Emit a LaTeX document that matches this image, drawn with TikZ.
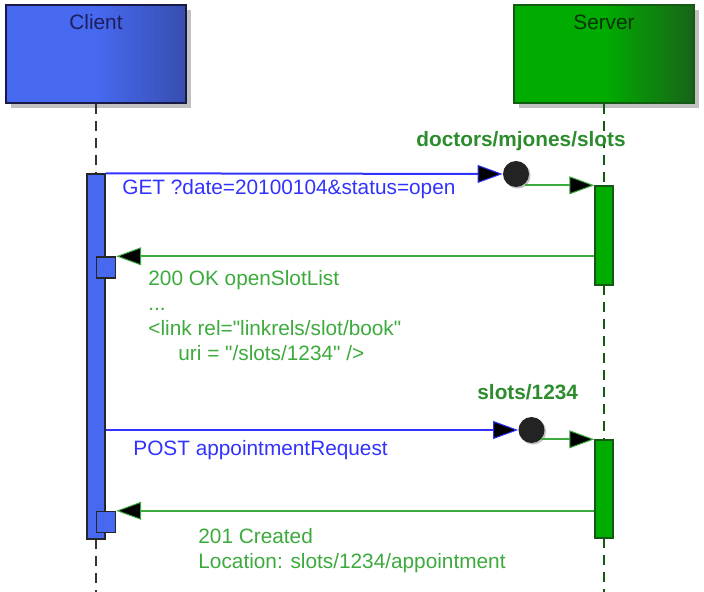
\documentclass[tikz,border=0pt]{standalone}
\usepackage{fontspec}
\setmainfont{Liberation Sans}
\usepackage{xcolor}
\usetikzlibrary{arrows.meta,shadows}

\definecolor{clientblue}{RGB}{70,105,240}
\definecolor{clientdark}{RGB}{55,78,175}
\definecolor{clientline}{RGB}{25,25,70}
\definecolor{servergreen}{RGB}{0,172,0}
\definecolor{serverdark}{RGB}{25,100,25}
\definecolor{serverline}{RGB}{20,90,20}
\definecolor{msgblue}{RGB}{50,50,255}
\definecolor{msggreen}{RGB}{60,170,60}
\definecolor{urlgreen}{RGB}{45,140,45}
\definecolor{dotgray}{RGB}{35,35,35}

\tikzset{
	lbl/.style={font=\fontsize{10.4}{12.5}\selectfont},
	actor/.style={lbl,draw,line width=0.8pt,inner sep=0pt,minimum width=90pt,
		text height=12.5pt,text depth=36.5pt,
		drop shadow={shadow xshift=2.5pt,shadow yshift=-2.5pt,fill=black!35,opacity=0.7}},
	actbar/.style={draw,line width=0.7pt,inner sep=0pt,minimum width=9pt},
	endpt/.style={circle,fill=dotgray,inner sep=0pt,minimum size=13pt,
		drop shadow={shadow xshift=0.8pt,shadow yshift=-0.8pt,fill=black!40,opacity=0.6}},
	lifeline/.style={dash pattern=on 5pt off 3.5pt,line width=0.8pt},
	reqtxt/.style={lbl,text=msgblue,anchor=base west,inner sep=0pt},
	restxt/.style={lbl,text=msggreen,anchor=base west,inner sep=0pt,align=left},
	urltxt/.style={lbl,font=\fontsize{10.4}{12.5}\selectfont\bfseries,text=urlgreen,anchor=base west,inner sep=0pt},
	tip/.style={-{Triangle[length=12.5pt,width=9pt,fill=black,line width=0.5pt]},line width=1pt}
}

\begin{document}
\begin{tikzpicture}[x=0.5pt,y=-0.5pt]
		\useasboundingbox (0,0) rectangle (704,592);
		% actors
		\node[actor,draw=clientline,left color=clientblue,right color=clientdark,middle color=clientblue,text={rgb,255:red,30;green,30;blue,90}] (client) at (96,54) {Client};
		\node[actor,draw=serverline,left color=servergreen,right color=serverdark,middle color=servergreen,text={rgb,255:red,10;green,50;blue,10}] (server) at (604,54) {Server};
		%
		\coordinate (cend) at (96,592);
		\coordinate (send) at (604,592);
		% lifelines
		\draw[lifeline,black!80] (client.south) -- (96,174);
		\draw[lifeline,serverline] (server.south) -- (604,186);
		\draw[lifeline,serverline] (604,285) -- (604,440);
		\draw[lifeline,black!80] (96,539) -- (cend);
		\draw[lifeline,serverline] (604,538) -- (send);
		%
		\node[actbar,fill=clientblue,draw=black!85,minimum height=182.5pt] (cbar) at (96,356.5) {};
		\node[actbar,fill=servergreen,draw=serverline,minimum height=49.5pt] (sbar1) at (604,235.5) {};
		\node[actbar,fill=servergreen,draw=serverline,minimum height=49pt] (sbar2) at (604,489) {};
		\node[actbar,fill=clientblue,draw=black!85,minimum width=9.5pt,minimum height=10.5pt] (sq1) at (106,267.5) {};
		\node[actbar,fill=clientblue,draw=black!85,minimum width=9.5pt,minimum height=10.5pt] (sq2) at (106,522) {};
		%
		\node[endpt] (c1) at (516,174) {};
		\node[endpt] (c2) at (531.5,430) {};
		%
		\path[tip]
		% requests
		(cbar.north east) edge[msgblue] (c1.west)
		(cbar.east |- c2.west) edge[msgblue] (c2.west)
		% forwarded
		(c1.south east |- sbar1.north west) edge[msggreen] (sbar1.north west)
		(c2.south east |- sbar2.north west) edge[msggreen] (sbar2.north west)
		% responses
		(sbar1.west |- sq1.north) edge[msggreen] (sq1.north east)
		(sbar2.west |- sq2.north) edge[msggreen] (sq2.north east);
		%
		\node[urltxt] (url1) at (416,147) {doctors/mjones/slots};
		\node[urltxt] (url2) at (477,399) {slots/1234};
		\node[reqtxt] (gettxt) at (122,195) {GET ?date=20100104\&status=open};
		\node[reqtxt] (posttxt) at (133,455) {POST appointmentRequest};
		% base of a multi-line node is its last line
		\node[restxt] (oktxt) at (148,360) {200 OK openSlotList\\...\\<link rel=\textquotedbl linkrels/slot/book\textquotedbl\\\hspace*{15pt}uri = \textquotedbl/slots/1234\textquotedbl{} />};
		\node[restxt] (crtxt) at (198,568) {201 Created\\Location: slots/1234/appointment};
\end{tikzpicture}
\end{document}
